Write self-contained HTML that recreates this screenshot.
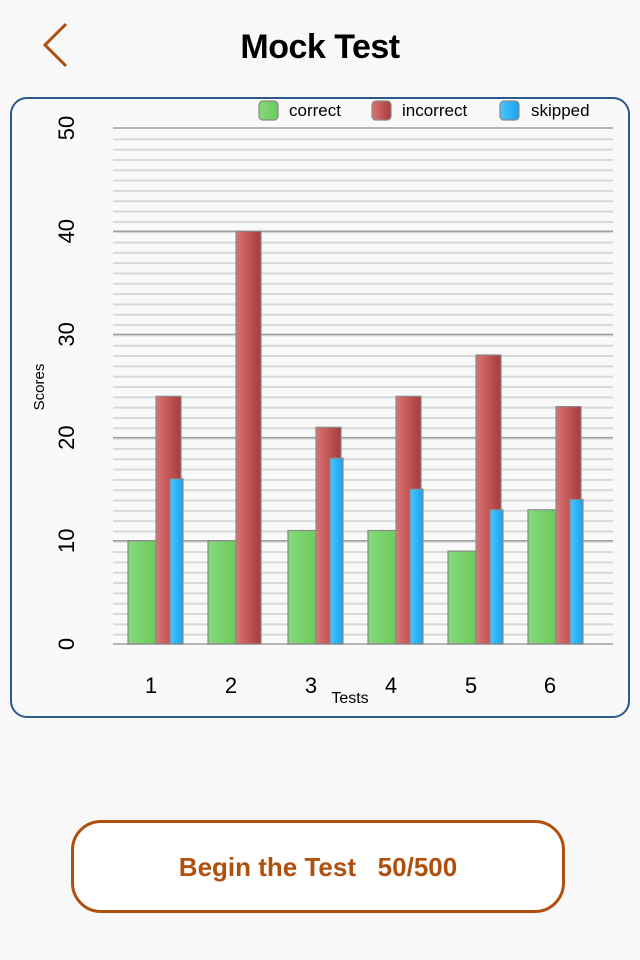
<!DOCTYPE html>
<html><head><meta charset="utf-8"><style>
html,body{margin:0;padding:0;background:#f8f8f8;}
body{width:640px;height:960px;position:relative;overflow:hidden;font-family:"Liberation Sans",sans-serif;}
.title{position:absolute;top:28px;left:0;width:640px;text-align:center;font-size:34px;font-weight:bold;color:#000;letter-spacing:-0.5px;}
.btn{position:absolute;left:71px;top:820px;width:494px;height:93px;border:3px solid #b0500f;border-radius:30px;box-sizing:border-box;background:#fff;color:#b0500f;font-weight:bold;font-size:26px;text-align:center;line-height:88px;}
</style></head><body>
<svg width="640" height="960" style="position:absolute;left:0;top:0">
<defs>
<pattern id="mn" x="0" y="4.16" width="640" height="10.32" patternUnits="userSpaceOnUse">
<rect x="0" y="0" width="640" height="2" fill="#d8d8d8"/>
</pattern>
<linearGradient id="g" x1="0" x2="1"><stop offset="0" stop-color="#86db7a"/><stop offset="1" stop-color="#6ac95e"/></linearGradient>
<linearGradient id="r" x1="0" x2="1"><stop offset="0" stop-color="#dc7474"/><stop offset="1" stop-color="#a83a3a"/></linearGradient>
<linearGradient id="b" x1="0" x2="1"><stop offset="0" stop-color="#48c8ff"/><stop offset="1" stop-color="#1aa0f0"/></linearGradient>
</defs>
<polyline points="66,24 45,45 66,66" fill="none" stroke="#b0500f" stroke-width="3"/>
<rect x="11" y="98" width="618" height="619" rx="16" fill="#f9f9f9" stroke="#2a5a8a" stroke-width="2"/>
<rect x="113" y="130" width="500" height="512" fill="url(#mn)"/>
<g stroke="#a0a0a0" stroke-width="1.5">
<line x1="113" x2="613" y1="128" y2="128"/><line x1="113" x2="613" y1="231.2" y2="231.2"/>
<line x1="113" x2="613" y1="334.4" y2="334.4"/><line x1="113" x2="613" y1="437.6" y2="437.6"/>
<line x1="113" x2="613" y1="540.8" y2="540.8"/><line x1="113" x2="613" y1="644" y2="644"/>
</g>
<g stroke="#8a8a8a" stroke-width="1.2">
<rect x="128" y="540.8" width="28" height="103.2" fill="url(#g)"/>
<rect x="156" y="396.3" width="25" height="247.7" fill="url(#r)"/>
<rect x="170" y="478.9" width="13" height="165.1" fill="url(#b)"/>
<rect x="208" y="540.8" width="28" height="103.2" fill="url(#g)"/>
<rect x="236" y="231.2" width="25" height="412.8" fill="url(#r)"/>
<rect x="288" y="530.5" width="28" height="113.5" fill="url(#g)"/>
<rect x="316" y="427.3" width="25" height="216.7" fill="url(#r)"/>
<rect x="330" y="458.2" width="13" height="185.8" fill="url(#b)"/>
<rect x="368" y="530.5" width="28" height="113.5" fill="url(#g)"/>
<rect x="396" y="396.3" width="25" height="247.7" fill="url(#r)"/>
<rect x="410" y="489.2" width="13" height="154.8" fill="url(#b)"/>
<rect x="448" y="551.1" width="28" height="92.9" fill="url(#g)"/>
<rect x="476" y="355.0" width="25" height="289" fill="url(#r)"/>
<rect x="490" y="509.8" width="13" height="134.2" fill="url(#b)"/>
<rect x="528" y="509.8" width="28" height="134.2" fill="url(#g)"/>
<rect x="556" y="406.6" width="25" height="237.4" fill="url(#r)"/>
<rect x="570" y="499.5" width="13" height="144.5" fill="url(#b)"/>
</g>
<g font-size="22" fill="#000" font-family="Liberation Sans,sans-serif" text-anchor="middle">
<text transform="translate(74,644) rotate(-90)">0</text>
<text transform="translate(74,540.8) rotate(-90)">10</text>
<text transform="translate(74,437.6) rotate(-90)">20</text>
<text transform="translate(74,334.4) rotate(-90)">30</text>
<text transform="translate(74,231.2) rotate(-90)">40</text>
<text transform="translate(74,128) rotate(-90)">50</text>
<text x="151" y="693">1</text><text x="231" y="693">2</text><text x="311" y="693">3</text>
<text x="391" y="693">4</text><text x="471" y="693">5</text><text x="550" y="693">6</text>
</g>
<text transform="translate(44,387) rotate(-90)" font-size="15" text-anchor="middle" fill="#000">Scores</text>
<text x="350" y="703" font-size="16" text-anchor="middle" fill="#000">Tests</text>
<g stroke="#888" stroke-width="1.2">
<rect x="259" y="101" width="19" height="19" rx="4" fill="url(#g)"/>
<rect x="372" y="101" width="19" height="19" rx="4" fill="url(#r)"/>
<rect x="500" y="101" width="19" height="19" rx="4" fill="url(#b)"/>
</g>
<g font-size="17" fill="#000">
<text x="289" y="116">correct</text><text x="402" y="116">incorrect</text><text x="531" y="116">skipped</text>
</g>
</svg>
<div class="title">Mock Test</div>
<div class="btn">Begin the Test&nbsp;&nbsp;&nbsp;50/500</div>
</body></html>
